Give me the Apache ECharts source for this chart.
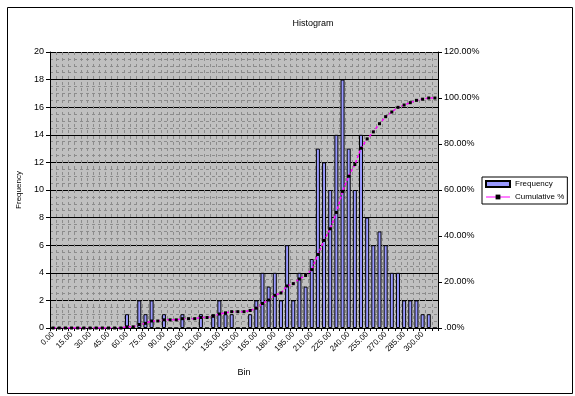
<!DOCTYPE html>
<html><head><meta charset="utf-8">
<script src="https://cdn.jsdelivr.net/npm/echarts@6/dist/echarts.min.js"></script>
<style>html,body{margin:0;padding:0;background:#fff}#c{width:575px;height:396px}</style>
</head><body><div id="c"></div>
<script>
const bins = ['0.00','5.00','10.00','15.00','20.00','25.00','30.00','35.00','40.00','45.00',
  '50.00','55.00','60.00','65.00','70.00','75.00','80.00','85.00','90.00','95.00',
  '100.00','105.00','110.00','115.00','120.00','125.00','130.00','135.00','140.00','145.00',
  '150.00','155.00','160.00','165.00','170.00','175.00','180.00','185.00','190.00','195.00',
  '200.00','205.00','210.00','215.00','220.00','225.00','230.00','235.00','240.00','245.00',
  '250.00','255.00','260.00','265.00','270.00','275.00','280.00','285.00','290.00','295.00',
  '300.00','305.00','More'];
const frequency = [0,0,0,0,0,0,0,0,0,0,
  0,0,1,0,2,1,2,0,1,0,
  0,1,0,0,1,0,1,2,1,1,
  0,0,1,2,4,3,4,2,6,2,
  4,3,5,13,12,10,14,18,13,10,
  14,8,6,7,6,4,4,2,2,2,
  1,1,0];
const cumulativePct = [0,0,0,0,0,0,0,0,0,0,
  0,0,0.51,0.51,1.52,2.03,3.05,3.05,3.55,3.55,
  3.55,4.06,4.06,4.06,4.57,4.57,5.08,6.09,6.60,7.11,
  7.11,7.11,7.61,8.63,10.66,12.18,14.21,15.23,18.27,19.29,
  21.32,22.84,25.38,31.98,38.07,43.15,50.25,59.39,65.99,71.07,
  78.17,82.23,85.28,88.83,91.88,93.91,95.94,96.95,97.97,98.98,
  99.49,100,100];
const freqAxis = {min: 0, max: 20, step: 2};
const pctAxis = {min: 0, max: 120, step: 20};

const FONT = 'Liberation Sans';
const chart = echarts.init(document.getElementById('c'), null, {renderer: 'canvas'});
chart.setOption({
  animation: false,
  backgroundColor: '#ffffff',
  textStyle: {fontFamily: FONT, color: '#000'},
  title: {
    text: 'Histogram', left: 308, top: 14, textAlign: 'center',
    textStyle: {fontFamily: FONT, fontSize: 9, fontWeight: 'normal', color: '#000'}
  },
  graphic: [{
    type: 'rect', left: 5, top: 5, z: -1,
    shape: {width: 565, height: 386},
    style: {fill: 'none', stroke: '#000', lineWidth: 1}
  }],
  legend: {
    orient: 'vertical', left: 482, top: 177,
    backgroundColor: '#fff', borderColor: '#000', borderWidth: 1,
    padding: [3, 3, 3, 3], itemGap: 5, itemWidth: 24, itemHeight: 6,
    textStyle: {fontFamily: FONT, fontSize: 8, color: '#000'},
    data: [
      {name: 'Frequency', icon: 'rect'},
      {name: 'Cumulative %', lineStyle: {type: 'solid', width: 1, color: '#ff00ff'}}
    ]
  },
  grid: {left: 50, right: 137, top: 52, bottom: 68, containLabel: false,
    show: true, backgroundColor: '#c0c0c0', borderWidth: 0},
  xAxis: {
    type: 'category', data: bins, boundaryGap: true,
    name: 'Bin', nameLocation: 'middle', nameGap: 40,
    nameTextStyle: {fontFamily: FONT, fontSize: 9, color: '#000'},
    axisLine: {lineStyle: {color: '#000', width: 1}},
    axisTick: {show: true, interval: 0, length: 3, lineStyle: {color: '#000'}},
    axisLabel: {interval: 2, rotate: 45, fontSize: 8, color: '#000', margin: 5, fontFamily: FONT},
    splitLine: {show: true, interval: 0, lineStyle: {color: '#8c8c8c', type: [3, 3], width: 1}}
  },
  yAxis: [{
    type: 'value', min: freqAxis.min, max: freqAxis.max, interval: freqAxis.step,
    name: 'Frequency', nameLocation: 'middle', nameGap: 21, nameRotate: 90,
    nameTextStyle: {fontFamily: FONT, fontSize: 8, color: '#000'},
    axisLine: {show: true, lineStyle: {color: '#000'}},
    axisTick: {show: true, length: 4, lineStyle: {color: '#000'}},
    axisLabel: {fontSize: 9, color: '#000', margin: 6, fontFamily: FONT},
    splitLine: {show: true, lineStyle: {color: '#000', width: 1}},
    minorTick: {show: false, splitNumber: 4},
    minorSplitLine: {show: true, lineStyle: {color: '#8c8c8c', type: [3, 3], width: 1}}
  }, {
    type: 'value', min: pctAxis.min, max: pctAxis.max, interval: pctAxis.step,
    position: 'right',
    axisLine: {show: true, lineStyle: {color: '#000'}},
    axisTick: {show: true, length: 4, lineStyle: {color: '#000'}},
    axisLabel: {fontSize: 9, color: '#000', margin: 6, fontFamily: FONT,
      formatter: v => v === 0 ? '.00%' : v.toFixed(2) + '%'},
    splitLine: {show: false}
  }],
  series: [{
    name: 'Frequency', type: 'bar', data: frequency, yAxisIndex: 0,
    barWidth: 4,
    itemStyle: {color: '#9999ff', borderColor: '#000', borderWidth: 1},
    z: 2
  }, {
    name: 'Cumulative %', type: 'line', data: cumulativePct, yAxisIndex: 1,
    symbol: 'rect', symbolSize: 3, showSymbol: true,
    itemStyle: {color: '#000'},
    lineStyle: {color: '#ff00ff', width: 1.5, type: [3, 2]},
    z: 3
  }]
});
</script></body></html>
